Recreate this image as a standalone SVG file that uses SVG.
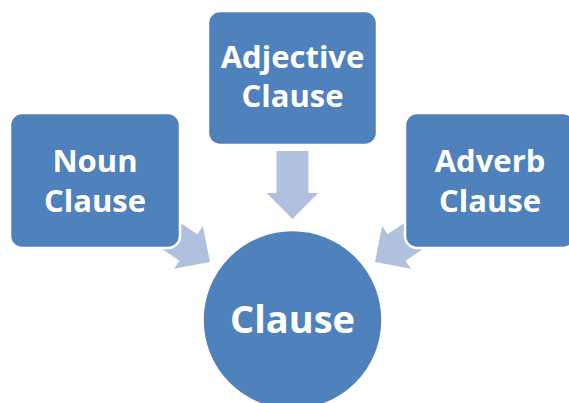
<svg xmlns="http://www.w3.org/2000/svg" width="569" height="403" viewBox="0 0 569 403">
  <style>
    .box { fill: #4f81bd; stroke: #ffffff; stroke-width: 2.5; }
    .arrow { fill: #afc1de; }
    .lbl { fill: #ffffff; font-family: "Open Sans", "Noto Sans", sans-serif; font-weight: bold; text-anchor: middle; }
  </style>
  <defs>
    <polygon id="arr" points="-16,-68 16,-68 16,-26 25.75,-26 0,0 -25.75,-26 -16,-26"/>
  </defs>
  <rect width="569" height="403" fill="#ffffff"/>
  <g id="connectors">
    <use href="#arr" class="arrow" transform="translate(292.5,219)"/>
    <use href="#arr" class="arrow" transform="translate(210,262) rotate(-56)"/>
    <use href="#arr" class="arrow" transform="translate(375,262) rotate(56)"/>
  </g>
  <g id="adjective">
    <rect class="box" x="208" y="11" width="169" height="134" rx="12"/>
    <text class="lbl" font-size="31" x="292.5" y="67.5">Adjective</text>
    <text class="lbl" font-size="31" x="292.5" y="107">Clause</text>
  </g>
  <g id="noun">
    <rect class="box" x="10" y="113" width="170" height="135" rx="12"/>
    <text class="lbl" font-size="31" x="95" y="171.5">Noun</text>
    <text class="lbl" font-size="31" x="95" y="211.5">Clause</text>
  </g>
  <g id="adverb">
    <rect class="box" x="405" y="113" width="170" height="135" rx="12"/>
    <text class="lbl" font-size="31" x="490" y="171.5">Adverb</text>
    <text class="lbl" font-size="31" x="490" y="211.5">Clause</text>
  </g>
  <g id="clause">
    <circle class="box" cx="292.5" cy="320" r="90" stroke-width="3"/>
    <text class="lbl" font-size="38" x="292.5" y="333">Clause</text>
  </g>
</svg>
